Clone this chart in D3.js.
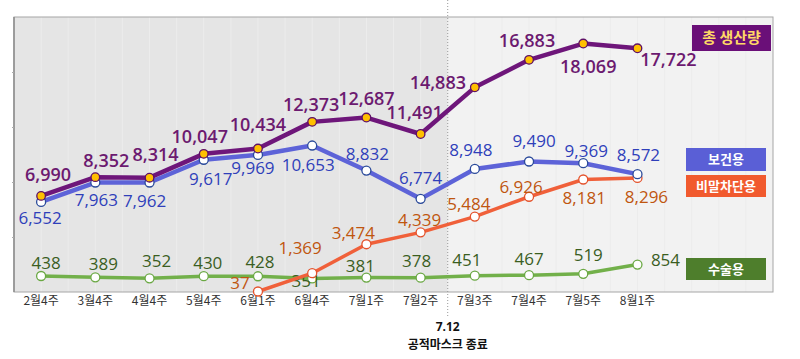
<!DOCTYPE html>
<html>
<head>
<meta charset="utf-8">
<script src="https://cdn.jsdelivr.net/npm/d3@7/dist/d3.min.js"></script>
<style>
  body { margin: 0; background: #fff; }
  text { font-family: "Open Sans", "Noto Sans CJK KR", sans-serif; }
  .kr { font-family: "Noto Sans CJK KR", "Noto Sans", sans-serif; }
</style>
</head>
<body>
<div id="chart"></div>
<script>
var width = 800;
var height = 359;

// data
var weeks = ["2월4주", "3월4주", "4월4주", "5월4주", "6월1주", "6월4주", "7월1주", "7월2주", "7월3주", "7월4주", "7월5주", "8월1주"];
var total = [6990, 8352, 8314, 10047, 10434, 12373, 12687, 11491, 14883, 16883, 18069, 17722];
var health = [6552, 7963, 7962, 9617, 9969, 10653, 8832, 6774, 8948, 9490, 9369, 8572];
var droplet = [null, null, null, null, 37, 1369, 3474, 4339, 5484, 6926, 8181, 8296];
var surgical = [438, 389, 352, 430, 428, 351, 381, 378, 451, 467, 519, 854];

// label placement (dx, dy from the point)
var totalLabelPos = [[7, -21], [11, -16], [6, -23], [-4, -17], [0, -24], [-1, -17], [0, -19], [-6, -21], [-37, -5], [-2, -19], [5, 23], [31, 11]];
var healthLabelPos = [[-1, 16], [1, 18], [-5, 19], [7, 19], [-5, 13], [-4, 20], [1, -17], [0, -21], [-4, -19], [5, -20], [3, -12], [1, -19]];
var dropletLabelPos = [null, null, null, null, [-18, -8], [-12, -25], [-13, -11], [-1, -12], [-6, -13], [-8, -10], [1, 19], [9, 19]];
var surgicalLabelPos = [[5, -13], [8, -13], [7, -17], [4, -13], [2, -14], [-6, 3], [-6, -12], [-4, -17], [-8, -16], [0, -16], [5, -19], [28, -5]];

var plotLeft = 14, plotRight = 773, plotTop = 17, plotBottom = 292;

var svg = d3.select("#chart").append("svg")
    .attr("width", width)
    .attr("height", height);

// 12 weeks + 2 empty slots on the right for the legend
var x = d3.scaleLinear().domain([-0.5, 13.5]).range([plotLeft, plotRight]);
var y = d3.scaleLinear().domain([0, 20000]).range([plotBottom, plotTop]);
var ySub = d3.scaleLinear().domain([0, 10000]).range([288, 14]);

// backgrounds
svg.append("rect")
    .attr("x", plotLeft).attr("y", plotTop)
    .attr("width", x(7.5) - plotLeft).attr("height", plotBottom - plotTop)
    .style("fill", "#e5e5e5");
svg.append("rect")
    .attr("x", x(7.5)).attr("y", plotTop)
    .attr("width", plotRight - x(7.5)).attr("height", plotBottom - plotTop)
    .style("fill", "#f2f2f2");

// vertical gridlines at half slots
var grid = d3.range(0, 28).map(function(k) { return -0.5 + k * 0.5; });
svg.append("g").selectAll("line")
    .data(grid)
    .enter().append("line")
    .attr("x1", function(d) { return x(d); })
    .attr("x2", function(d) { return x(d); })
    .attr("y1", plotTop).attr("y2", plotBottom)
    .style("stroke", "#ececec")
    .style("stroke-width", 1);

// frame
svg.append("rect")
    .attr("x", plotLeft).attr("y", plotTop)
    .attr("width", plotRight - plotLeft).attr("height", plotBottom - plotTop)
    .style("fill", "none")
    .style("stroke", "#a6a6a6")
    .style("stroke-width", 1);
svg.append("line")
    .attr("x1", plotLeft).attr("x2", plotLeft)
    .attr("y1", plotTop).attr("y2", plotBottom)
    .style("stroke", "#8c8c8c").style("stroke-width", 1.5);

// left ticks
var yAxis = d3.axisLeft(y).tickValues([4000, 8000, 12000, 16000]).tickSize(2).tickFormat("");
svg.append("g")
    .attr("transform", "translate(" + plotLeft + ",0)")
    .call(yAxis)
    .call(function(g) {
        g.select(".domain").remove();
        g.selectAll("line").style("stroke", "#aaa");
    });

// x labels
svg.append("g").selectAll("text")
    .data(weeks)
    .enter().append("text")
    .attr("class", "kr")
    .attr("x", function(d, i) { return x(i); })
    .attr("y", 301)
    .attr("dy", "0.35em")
    .attr("text-anchor", "middle")
    .attr("font-size", "12px")
    .style("fill", "#333")
    .text(function(d) { return d; });

// 7.12 divider
svg.append("line")
    .attr("x1", x(7.5)).attr("x2", x(7.5))
    .attr("y1", 0).attr("y2", 317)
    .style("stroke", "#9a9a9a")
    .style("stroke-width", 1)
    .style("stroke-dasharray", "1,2");

svg.append("text")
    .attr("x", x(7.5)).attr("y", 327)
    .attr("dy", "0.35em")
    .attr("text-anchor", "middle")
    .attr("font-size", "12px")
    .attr("font-weight", "bold")
    .style("fill", "#111")
    .text("7.12");
svg.append("text")
    .attr("class", "kr")
    .attr("x", x(7.5)).attr("y", 345)
    .attr("dy", "0.35em")
    .attr("text-anchor", "middle")
    .attr("font-size", "12px")
    .attr("font-weight", "bold")
    .style("fill", "#111")
    .text("공적마스크 종료");

function drawSeries(values, scale, opt) {
    var pts = values.map(function(v, i) { return { i: i, v: v, pos: opt.labelPos[i] }; })
        .filter(function(d) { return d.v !== null; });

    var line = d3.line()
        .x(function(d) { return x(d.i); })
        .y(function(d) { return scale(d.v); });

    svg.append("path")
        .datum(pts)
        .attr("d", line)
        .style("fill", "none")
        .style("stroke", opt.line)
        .style("stroke-width", opt.lineWidth)
        .style("stroke-linejoin", "round");

    svg.append("g").selectAll("circle")
        .data(pts)
        .enter().append("circle")
        .attr("cx", function(d) { return x(d.i); })
        .attr("cy", function(d) { return scale(d.v); })
        .attr("r", opt.r)
        .style("fill", opt.markerFill)
        .style("stroke", opt.markerStroke)
        .style("stroke-width", 1.3);

    svg.append("g").selectAll("text")
        .data(pts)
        .enter().append("text")
        .attr("x", function(d) { return x(d.i) + d.pos[0]; })
        .attr("y", function(d) { return scale(d.v) + d.pos[1]; })
        .attr("dy", "0.35em")
        .attr("text-anchor", "middle")
        .attr("font-size", opt.fontSize)
        .attr("font-weight", opt.fontWeight)
        .style("fill", opt.text)
        .text(function(d) { return d3.format(",")(d.v); });
}

drawSeries(surgical, ySub, {
    labelPos: surgicalLabelPos, line: "#72b04a", lineWidth: 3.5, r: 4.5,
    markerFill: "#fff", markerStroke: "#6aa843", text: "#3b5e1f", fontSize: "17px", fontWeight: 500
});
drawSeries(droplet, y, {
    labelPos: dropletLabelPos, line: "#f0603a", lineWidth: 3.5, r: 4.5,
    markerFill: "#fff", markerStroke: "#e4532c", text: "#c0560f", fontSize: "17px", fontWeight: 500
});
drawSeries(health, y, {
    labelPos: healthLabelPos, line: "#5d63d8", lineWidth: 4.5, r: 4.5,
    markerFill: "#fff", markerStroke: "#2a4a9a", text: "#2f3fba", fontSize: "17px", fontWeight: 500
});
drawSeries(total, y, {
    labelPos: totalLabelPos, line: "#6e167a", lineWidth: 4.5, r: 4.3,
    markerFill: "#ffc000", markerStroke: "#5e1066", text: "#6c1a70", fontSize: "18px", fontWeight: 600
});

// legend boxes
var legend = [
    { name: "총 생산량", x: 692, y: 25, w: 79, h: 26, fill: "#6a0f78", color: "#ffd966", size: "15px" },
    { name: "보건용", x: 686, y: 148, w: 80, h: 23, fill: "#5a5fd6", color: "#fff", size: "13px" },
    { name: "비말차단용", x: 686, y: 175, w: 80, h: 22, fill: "#f15a2e", color: "#fff", size: "13px" },
    { name: "수술용", x: 686, y: 258, w: 80, h: 22, fill: "#4e7e2c", color: "#fff", size: "13px" }
];

var lg = svg.append("g").selectAll("g")
    .data(legend)
    .enter().append("g");

lg.append("rect")
    .attr("x", function(d) { return d.x; })
    .attr("y", function(d) { return d.y; })
    .attr("width", function(d) { return d.w; })
    .attr("height", function(d) { return d.h; })
    .style("fill", function(d) { return d.fill; });

lg.append("text")
    .attr("class", "kr")
    .attr("x", function(d) { return d.x + d.w / 2; })
    .attr("y", function(d) { return d.y + d.h / 2; })
    .attr("dy", "0.35em")
    .attr("text-anchor", "middle")
    .attr("font-size", function(d) { return d.size; })
    .attr("font-weight", "bold")
    .style("fill", function(d) { return d.color; })
    .text(function(d) { return d.name; });
</script>
</body>
</html>
